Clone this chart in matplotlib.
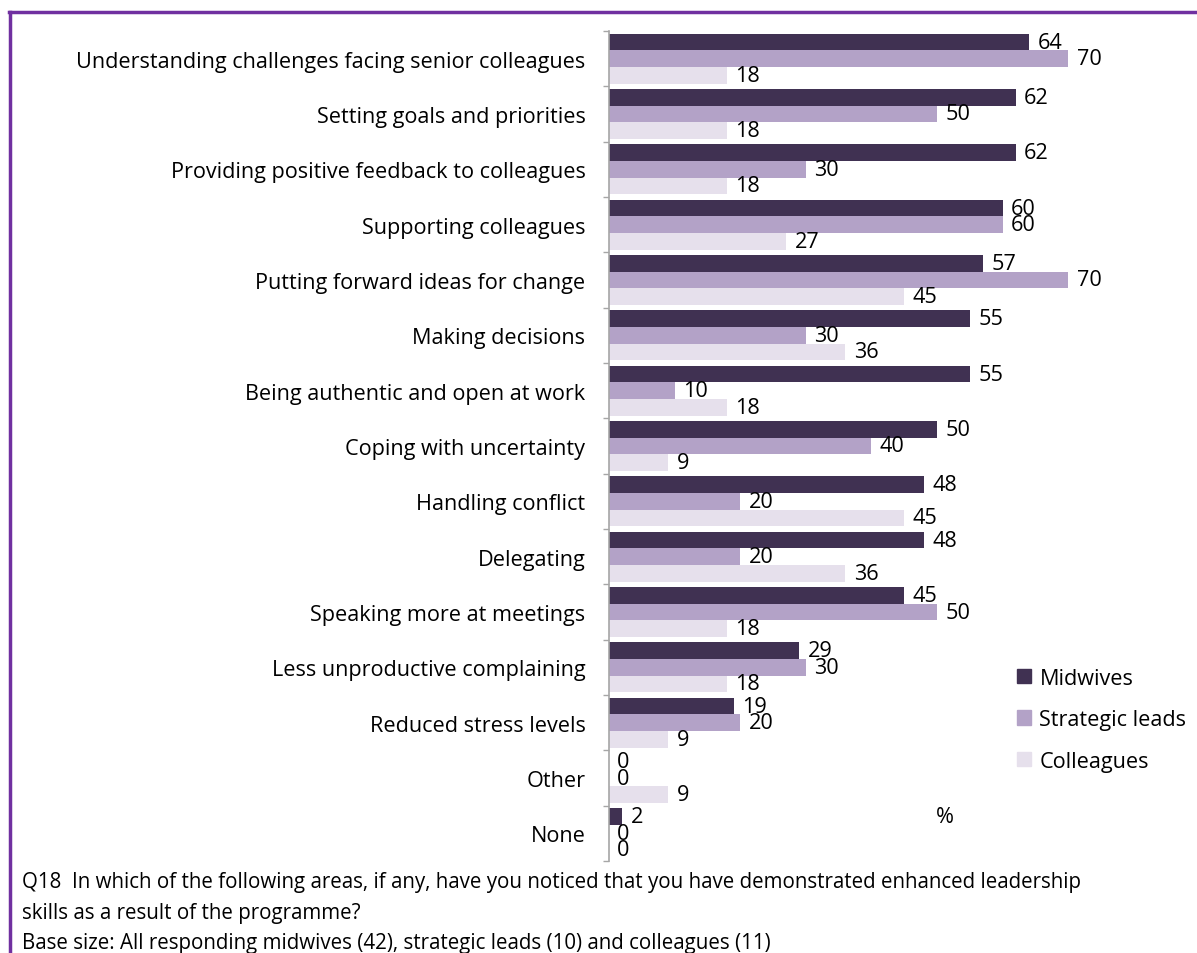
import numpy as np
import matplotlib.pyplot as plt
from matplotlib.lines import Line2D
from matplotlib.patches import Patch

plt.rcParams['font.family'] = ['Open Sans', 'DejaVu Sans']

categories = [
    'Understanding challenges facing senior colleagues',
    'Setting goals and priorities',
    'Providing positive feedback to colleagues',
    'Supporting colleagues',
    'Putting forward ideas for change',
    'Making decisions',
    'Being authentic and open at work',
    'Coping with uncertainty',
    'Handling conflict',
    'Delegating',
    'Speaking more at meetings',
    'Less unproductive complaining',
    'Reduced stress levels',
    'Other',
    'None',
]
midwives = [64, 62, 62, 60, 57, 55, 55, 50, 48, 48, 45, 29, 19, 0, 2]
strategic_leads = [70, 50, 30, 60, 70, 30, 10, 40, 20, 20, 50, 30, 20, 0, 0]
colleagues = [18, 18, 18, 27, 45, 36, 18, 9, 45, 36, 18, 18, 9, 9, 0]

series = [('Midwives', midwives, '#403152'),
          ('Strategic leads', strategic_leads, '#B3A2C7'),
          ('Colleagues', colleagues, '#E6E0EC')]

fs = 15.6

fig = plt.figure(figsize=(11.97, 9.54), dpi=100)
ax = fig.add_axes([0.5088, 0.0964, 0.4385, 0.8701])

y = np.arange(len(categories))
h = 0.3
for i, (name, vals, col) in enumerate(series):
    bars = ax.barh(y + (i - 1) * h, vals, height=h, color=col, label=name)
    ax.bar_label(bars, labels=[f'{v:g}' for v in vals], padding=6, fontsize=fs)

ax.set_xlim(0, 80)
ax.set_ylim(len(categories) - 0.5, -0.5)
ax.set_yticks(y)
ax.set_yticklabels(categories, fontsize=fs)
ax.set_yticks(np.arange(len(categories) + 1) - 0.5, minor=True)
ax.tick_params(axis='y', which='major', length=0, pad=17)
ax.tick_params(axis='y', which='minor', length=4.5, width=1, color='#A6A6A6')
ax.set_xticks([])
for s in ['top', 'right', 'bottom']:
    ax.spines[s].set_visible(False)
ax.spines['left'].set_color('#A6A6A6')
ax.spines['left'].set_linewidth(1.2)

handles = [Patch(color=c) for _, _, c in series]
fig.legend(handles, [n for n, _, _ in series], loc='upper left',
           bbox_to_anchor=(1008 / 1197, 1 - 660 / 954), frameon=False,
           fontsize=fs, handlelength=0.65, handleheight=0.65, handletextpad=0.4,
           labelspacing=0.95, borderaxespad=0)

fig.text(945 / 1197, 1 - 818 / 954, '%', fontsize=fs, ha='center', va='center')

notes = ['Q18  In which of the following areas, if any, have you noticed that you have demonstrated enhanced leadership',
         'skills as a result of the programme?',
         'Base size: All responding midwives (42), strategic leads (10) and colleagues (11)']
for line, ypx in zip(notes, [883, 914, 944]):
    fig.text(22 / 1197, 1 - ypx / 954, line, fontsize=14.8, ha='left', va='center')

# purple frame on the top and left edges
fig.add_artist(Line2D([9 / 1197, 1], [1 - 13 / 954] * 2, transform=fig.transFigure,
                      color='#7030A0', lw=2.5))
fig.add_artist(Line2D([10 / 1197] * 2, [1 - 13 / 954, 0], transform=fig.transFigure,
                      color='#7030A0', lw=2.5))

fig.savefig('out.png', dpi=100)
